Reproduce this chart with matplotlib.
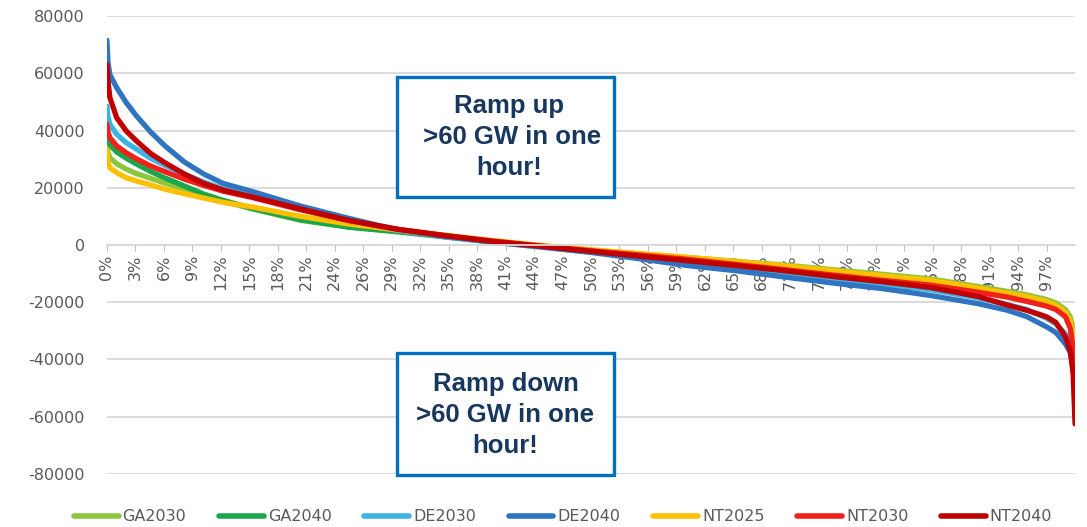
import matplotlib.pyplot as plt
import numpy as np
from matplotlib.patches import Rectangle

# duration curves of hourly ramps (MW)
pct = [0, 0.1, 0.3, 1, 2, 3, 4.5, 6, 8, 10, 12, 15, 20, 25, 30, 35, 40, 45, 50,
       55, 60, 65, 70, 75, 80, 85, 90, 93, 95, 97, 98, 99, 99.5, 99.8, 100]

ga2030 = [36000, 32500, 30500, 28400, 26500, 25000, 23300, 21600, 19600, 17400, 15300, 12600,
          8600, 6300, 4900, 3100, 1300, -300, -1800, -3100, -4400, -5700, -7000, -8600,
          -10200, -11800, -14500, -16200, -17400, -19000, -20200, -22500, -25000, -29000, -33000]
ga2040 = [39000, 36500, 35000, 32500, 30300, 28400, 25700, 23400, 20600, 17800, 15600, 12800,
          8800, 6200, 4600, 2800, 1000, -500, -2000, -3400, -4800, -6300, -7800, -9400,
          -11000, -12600, -15000, -16800, -18300, -20000, -21500, -24000, -27000, -32000, -38000]
de2030 = [48500, 45000, 42200, 38700, 35700, 33600, 30300, 27800, 24700, 22000, 19600, 17000,
          12500, 8400, 5000, 2800, 900, -800, -2500, -4200, -6000, -7900, -9800, -11800,
          -13600, -15600, -18500, -20800, -22500, -25500, -27500, -31000, -34000, -38000, -42000]
de2040 = [71500, 64000, 59500, 55000, 49700, 45300, 39500, 34600, 29000, 24800, 21500, 18700,
          13600, 9300, 5300, 3000, 1000, -700, -2600, -4800, -7200, -9000, -11200, -13300,
          -15200, -17600, -20500, -22800, -25000, -28500, -30500, -34500, -37500, -41000, -45000]
nt2025 = [33500, 29000, 27000, 25300, 23500, 22400, 21000, 19500, 17900, 16400, 14900, 13300,
          10000, 7300, 5300, 3400, 1500, -200, -1700, -3000, -4300, -5800, -7300, -9000,
          -10700, -12300, -15000, -16800, -18000, -19700, -21000, -23500, -26500, -31000, -36000]
nt2030 = [42200, 39500, 37500, 34600, 32200, 30200, 27600, 25600, 23000, 20800, 18800, 16600,
          12300, 8500, 5500, 3300, 1300, -400, -2000, -3500, -5000, -6800, -8600, -10500,
          -12300, -14000, -16500, -18200, -19700, -21300, -22500, -25000, -29000, -36000, -48500]
nt2040 = [63000, 57500, 51500, 44500, 39800, 36500, 32000, 28700, 24800, 21500, 19200, 16800,
          12600, 8600, 5500, 3200, 1200, -500, -2200, -3900, -5500, -7200, -9000, -11000,
          -12800, -14800, -18000, -21000, -22800, -25000, -27000, -32000, -37000, -45000, -62500]

names = ['GA2030', 'GA2040', 'DE2030', 'DE2040', 'NT2025', 'NT2030', 'NT2040']
series = [ga2030, ga2040, de2030, de2040, nt2025, nt2030, nt2040]
colors = ['#8cc63f', '#1aa64a', '#3db4e5', '#2f74c0', '#ffc000', '#f0201a', '#c00000']

tick_labels = ['0%', '3%', '6%', '9%', '12%', '15%', '18%', '21%', '24%', '26%', '29%', '32%',
               '35%', '38%', '41%', '44%', '47%', '50%', '53%', '56%', '59%', '62%', '65%',
               '68%', '71%', '74%', '76%', '79%', '82%', '85%', '88%', '91%', '94%', '97%']

fig = plt.figure(figsize=(10.87, 5.27), dpi=100)
ax = fig.add_axes([0.0984, 0.1006, 0.8906, 0.869])

for name, vals, c in zip(names, series, colors):
    ax.plot(pct, vals, color=c, lw=3.8, label=name, solid_capstyle='round')

ax.set_xlim(0, 100)
ax.set_ylim(-80000, 80000)
yt = np.arange(-80000, 80001, 20000)
ax.set_yticks(yt)
ax.set_yticklabels([str(v) for v in yt])
ax.set_xticks(np.arange(len(tick_labels)) * 100 / 34)
ax.set_xticklabels(tick_labels)

ax.set_axisbelow(True)
ax.grid(axis='y', color='#d9d9d9', lw=1.3)
for s in ['top', 'right', 'left']:
    ax.spines[s].set_visible(False)
ax.spines['bottom'].set_position(('data', 0))
ax.spines['bottom'].set_color('#d9d9d9')
ax.spines['bottom'].set_linewidth(1.3)
ax.tick_params(axis='x', direction='out', length=4, color='#bfbfbf', labelrotation=90,
               labelcolor='#595959', labelsize=11.5, pad=3)
ax.tick_params(axis='y', length=0, labelcolor='#595959', labelsize=11.5, pad=16)

# annotation boxes
box_col = '#0070c0'
txt_col = '#17375e'
fig.add_artist(Rectangle((0.3652, 0.6262), 0.1996, 0.2277, transform=fig.transFigure,
                         facecolor='white', edgecolor=box_col, lw=2.4, zorder=5))
fig.text(0.468, 0.74, 'Ramp up\n >60 GW in one\nhour!', ha='center', va='center',
         fontsize=18.5, fontweight='bold', color=txt_col, family='Liberation Sans',
         linespacing=1.38, zorder=6)
fig.add_artist(Rectangle((0.3652, 0.0987), 0.1996, 0.2315, transform=fig.transFigure,
                         facecolor='white', edgecolor=box_col, lw=2.4, zorder=5))
fig.text(0.465, 0.213, 'Ramp down\n>60 GW in one\nhour!', ha='center', va='center',
         fontsize=18.5, fontweight='bold', color=txt_col, family='Liberation Sans',
         linespacing=1.38, zorder=6)

leg = fig.legend(loc='center', ncol=7, bbox_to_anchor=(0.518, 0.019), frameon=False,
                 handlelength=2.8, handletextpad=0.25, columnspacing=2.05,
                 prop={'size': 11.5})
for t in leg.get_texts():
    t.set_color('#595959')
for h in leg.get_lines():
    h.set_linewidth(4)

fig.savefig('out.png', dpi=100)
